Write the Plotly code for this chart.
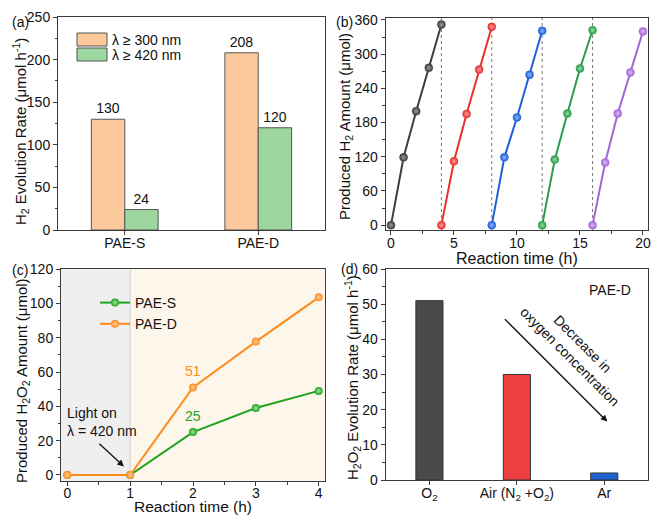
import plotly.graph_objects as go

W, H = 651, 515
def fx(p): return p / W
def fy(p): return 1 - p / H

# ---------- data ----------
# (a)
a_cats = ["PAE-S", "PAE-D"]
a_300 = [130, 208]
a_420 = [24, 120]
# (b)
b_cycles = [
    ([0, 1, 2, 3, 4], [0, 119, 200, 276, 352]),
    ([4, 5, 6, 7, 8], [0, 112, 195, 273, 348]),
    ([8, 9, 10, 11, 12], [0, 119, 189, 264, 341]),
    ([12, 13, 14, 15, 16], [0, 115, 196, 275, 342]),
    ([16, 17, 18, 19, 20], [0, 110, 196, 268, 340]),
]
b_colors = ["#3d3d3d", "#e8302e", "#1f5fd8", "#2a9d4a", "#a366d6"]
b_light = ["#9a9a9a", "#f8a0a0", "#8fb4f4", "#95d8a8", "#d9b8f2"]
b_boundaries = [4, 8, 12, 16]
# (c)
c_time = [0, 1, 2, 3, 4]
c_pae_s = [0, 0, 25, 39, 49]
c_pae_d = [0, 0, 51, 77.7, 103.5]
# (d)
d_cats = ["O<sub>2</sub>", "Air (N<sub>2</sub> +O<sub>2</sub>)", "Ar"]
d_vals = [51, 30, 2]
d_colors = ["#4a4a4a", "#ec3f3f", "#2064d4"]

FONT = "Liberation Sans, Arial, sans-serif"
TICK = 14
TITLE = 16
YTITLE = 15
LINE = "#3a3a3a"

fig = go.Figure()

# (a) bars
fig.add_trace(go.Bar(x=a_cats, y=a_300, name="λ ≥ 300 nm", marker=dict(color="#fbc99b", line=dict(color="#555", width=1)),
                     texttemplate="%{y}", textposition="outside", textfont=dict(size=TICK, color="#111"),
                     cliponaxis=False, showlegend=False, xaxis="x", yaxis="y"))
fig.add_trace(go.Bar(x=a_cats, y=a_420, name="λ ≥ 420 nm", marker=dict(color="#9dd69e", line=dict(color="#555", width=1)),
                     texttemplate="%{y}", textposition="outside", textfont=dict(size=TICK, color="#111"),
                     cliponaxis=False, showlegend=False, xaxis="x", yaxis="y"))

# (b) cycles
for (xs, ys), c, lc in zip(b_cycles, b_colors, b_light):
    fig.add_trace(go.Scatter(x=xs, y=ys, mode="lines+markers", line=dict(color=c, width=2),
                             marker=dict(size=8, color=c, gradient=dict(type="radial", color=lc),
                                         line=dict(color=c, width=0.5)),
                             showlegend=False, cliponaxis=False, xaxis="x2", yaxis="y2"))

# (c)
fig.add_trace(go.Scatter(x=c_time, y=c_pae_s, name="PAE-S", mode="lines+markers",
                         line=dict(color="#1fa31f", width=2),
                         marker=dict(size=8, color="#1fa31f", gradient=dict(type="radial", color="#9be59b")),
                         legend="legend2", cliponaxis=False, xaxis="x3", yaxis="y3"))
fig.add_trace(go.Scatter(x=c_time, y=c_pae_d, name="PAE-D", mode="lines+markers",
                         line=dict(color="#ff8a1c", width=2),
                         marker=dict(size=8, color="#ff8a1c", gradient=dict(type="radial", color="#ffd09a")),
                         legend="legend2", cliponaxis=False, xaxis="x3", yaxis="y3"))

# (d)
fig.add_trace(go.Bar(x=d_cats, y=d_vals, width=0.31, marker=dict(color=d_colors, line=dict(color="#333", width=1)),
                     showlegend=False, xaxis="x4", yaxis="y4"))

def ax(domain, anchor, **kw):
    d = dict(domain=domain, anchor=anchor, showline=True, linecolor=LINE, linewidth=1, mirror=True,
             ticks="outside", ticklen=4, tickcolor=LINE, showgrid=False, zeroline=False, automargin=False,
             tickfont=dict(size=TICK, color="#111"))
    d.update(kw)
    return d

xa_dom = [fx(58), fx(325)]
xb_dom = [fx(385.7), fx(648)]
xc_dom = [fx(61), fx(325)]
ytop_a = [fy(230), fy(17)]
ytop_b = [fy(230), fy(18)]
ybot_c = [fy(481), fy(269)]
ybot_d = [fy(480), fy(269)]
MINOR = dict(ticks="outside", ticklen=2.5, tickcolor=LINE)
XSO = -4

fig.update_layout(
    width=W, height=H, margin=dict(l=0, r=0, t=0, b=0, autoexpand=False),
    paper_bgcolor="white", plot_bgcolor="white",
    font=dict(family=FONT, size=TICK, color="#111"),
    barmode="group", bargap=0.5, bargroupgap=0,
    xaxis=ax(xa_dom, "y", type="category", range=[-0.5, 1.5], ticklabelstandoff=XSO),
    yaxis=ax(ytop_a, "x", range=[0, 250], dtick=50, minor=dict(MINOR, dtick=25)),
    xaxis2=ax(xb_dom, "y2", range=[-0.42, 20.4], dtick=5, minor=dict(MINOR, dtick=2.5), ticklabelstandoff=XSO),
    yaxis2=ax(ytop_b, "x2", range=[-8.5, 363.5], tickvals=[0, 60, 120, 180, 240, 300, 360],
              minor=dict(MINOR, tickvals=[30, 90, 150, 210, 270, 330])),
    xaxis3=ax(xc_dom, "y3", range=[-0.1, 4.1], dtick=1, minor=dict(MINOR, dtick=0.5), ticklabelstandoff=-5),
    yaxis3=ax(ybot_c, "x3", range=[-3.5, 120], dtick=20, minor=dict(MINOR, dtick=10)),
    xaxis4=ax(xb_dom, "y4", type="category", range=[-0.5, 2.5], ticklabelstandoff=XSO),
    yaxis4=ax(ybot_d, "x4", range=[0, 60], dtick=10, minor=dict(MINOR, dtick=5)),
    legend2=dict(x=fx(95), y=fy(287), xanchor="left", yanchor="top", bgcolor="rgba(0,0,0,0)",
                 font=dict(size=TICK), tracegroupgap=0, itemwidth=30),
    showlegend=True,
)

shapes = []
# (c) background regions
shapes.append(dict(type="rect", xref="x3", yref="y3 domain", x0=-0.1, x1=c_time[1], y0=0, y1=1,
                   fillcolor="#efefef", line=dict(width=0), layer="below"))
shapes.append(dict(type="rect", xref="x3", yref="y3 domain", x0=c_time[1], x1=4.1, y0=0, y1=1,
                   fillcolor="#fdf6ea", line=dict(width=0), layer="below"))
shapes.append(dict(type="line", xref="x3", yref="y3 domain", x0=c_time[1], x1=c_time[1], y0=0, y1=1,
                   line=dict(color="#d0d0d0", width=1), layer="below"))
# (b) cycle boundaries
for b in b_boundaries:
    shapes.append(dict(type="line", xref="x2", yref="y2 domain", x0=b, x1=b, y0=0, y1=1,
                       line=dict(color="#777", width=1, dash="dot"), layer="below"))
# (a) legend boxes
leg_a = [("λ ≥ 300 nm", "#fbc99b", 33), ("λ ≥ 420 nm", "#9dd69e", 48)]
for txt, col, top in leg_a:
    shapes.append(dict(type="rect", xref="paper", yref="paper", x0=fx(77), x1=fx(107), y0=fy(top + 13), y1=fy(top),
                       fillcolor=col, line=dict(color="#555", width=1)))
fig.update_layout(shapes=shapes)

ann = []
for txt, col, top in leg_a:
    ann.append(dict(text=txt, xref="paper", yref="paper", x=fx(110), y=fy(top + 6.5), xanchor="left", yanchor="middle",
                    showarrow=False, font=dict(size=TICK, color="#111")))
# panel labels
for lab, x, y in [("(a)", 10, 22), ("(b)", 334, 22), ("(c)", 10, 270), ("(d)", 339, 269)]:
    ann.append(dict(text=lab, xref="paper", yref="paper", x=fx(x), y=fy(y), xanchor="left", yanchor="middle",
                    showarrow=False, font=dict(size=TICK, color="#111")))
# axis titles
ytitles = [
    ("H<sub>2</sub> Evolution Rate (μmol h<sup>-1</sup>)", 20, 132),
    ("Produced H<sub>2</sub> Amount (μmol)", 345, 127),
    ("Produced H<sub>2</sub>O<sub>2</sub> Amount (μmol)", 22, 381),
    ("H<sub>2</sub>O<sub>2</sub> Evolution Rate (μmol h<sup>-1</sup>)", 352, 378),
]
for txt, x, y in ytitles:
    ann.append(dict(text=txt, xref="paper", yref="paper", x=fx(x), y=fy(y), xanchor="center", yanchor="middle",
                    textangle=-90, showarrow=False, font=dict(size=YTITLE, color="#111")))
for txt, xr, y, fs in [("Reaction time (h)", "x2 domain", 258, TITLE), ("Reaction time (h)", "x3 domain", 506, 15.5)]:
    ann.append(dict(text=txt, xref=xr, yref="paper", x=0.5, y=fy(y), xanchor="center", yanchor="middle",
                    showarrow=False, font=dict(size=fs, color="#111")))
# (c) value labels
ann.append(dict(text=str(round(c_pae_d[2])), xref="x3", yref="y3", x=c_time[2], y=c_pae_d[2], yshift=16,
                showarrow=False, font=dict(size=TICK, color="#ff8a1c")))
ann.append(dict(text=str(round(c_pae_s[2])), xref="x3", yref="y3", x=c_time[2], y=c_pae_s[2], yshift=16,
                showarrow=False, font=dict(size=TICK, color="#1fa31f")))
ann.append(dict(text="Light on<br>λ = 420 nm", xref="x3", yref="y3", x=-0.03, y=31, xanchor="left", yanchor="middle",
                align="left", showarrow=False, font=dict(size=TICK, color="#111")))
ann.append(dict(text="", xref="x3", yref="y3", x=0.9, y=5, ax=-26, ay=-24, showarrow=True,
                arrowhead=2, arrowsize=1, arrowwidth=1.3, arrowcolor="#111"))
# (d) annotations
ann.append(dict(text="PAE-D", xref="x4", yref="y4", x=2.07, y=54, showarrow=False, font=dict(size=TICK, color="#111")))
ann.append(dict(text="", xref="x4", yref="y4", x=2.035, y=16.6, ax=-104, ay=-104, showarrow=True,
                arrowhead=2, arrowsize=1, arrowwidth=1.3, arrowcolor="#111"))
ann.append(dict(text="Decrease in<br>oxygen concentration", xref="x4", yref="y4", x=1.68, y=37, textangle=45,
                showarrow=False, font=dict(size=TICK, color="#111")))
fig.update_layout(annotations=ann)

fig.write_html("out.html", config={"displayModeBar": False},
               post_script="document.body.style.margin='0';document.body.style.overflow='hidden';")
